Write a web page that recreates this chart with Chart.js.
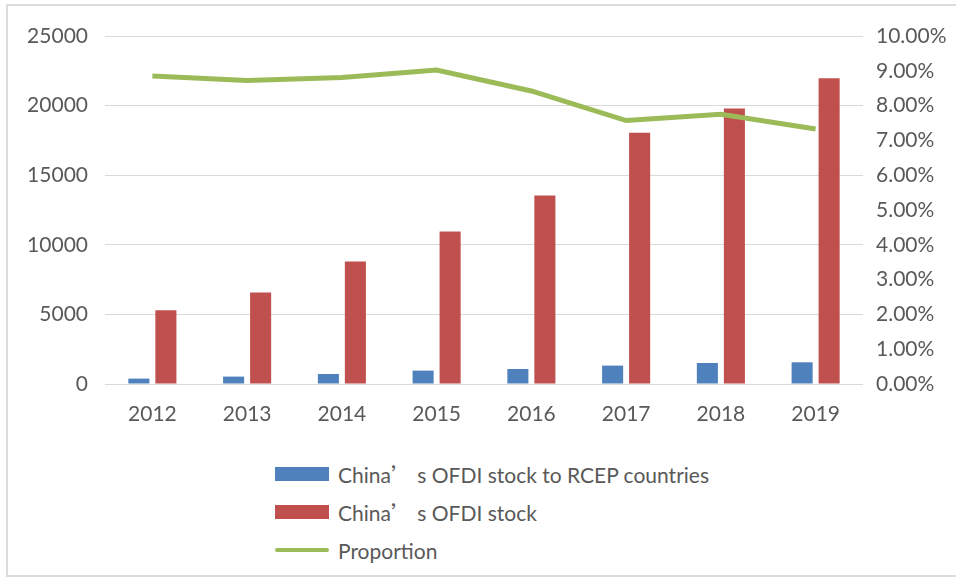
<!DOCTYPE html>
<html>
<head>
<meta charset="utf-8">
<script src="https://cdn.jsdelivr.net/npm/chart.js@4.4.1/dist/chart.umd.min.js"></script>
<style>
    html, body { margin: 0; padding: 0; background: #ffffff; }
    #frame {
        position: absolute; left: 6px; top: 4px; width: 960px; height: 573px;
        border: 2px solid #dcdcdc; box-sizing: border-box;
    }
    #wrap { position: absolute; left: 0; top: 0; width: 956px; height: 440px; }
    #legend {
        position: absolute; left: 275px; top: 455px;
        font-family: Lato, "Open Sans", sans-serif; font-size: 21px; color: #595959;
    }
    .item { display: flex; align-items: center; height: 38px; white-space: pre; }
    .swatch { width: 54px; margin-right: 9px; }
    .cjk { font-family: "Noto Sans CJK SC", sans-serif; }
</style>
</head>
<body>
<div id="frame"></div>
<div id="wrap"><canvas id="ofdiChart" width="956" height="440"></canvas></div>
<div id="legend"></div>
<script>
const years = ['2012', '2013', '2014', '2015', '2016', '2017', '2018', '2019'];
const rcepStock = [388, 532, 718, 963, 1078, 1322, 1509, 1559];
const totalStock = [5300, 6580, 8800, 10960, 13550, 18050, 19800, 21970];
const proportion = [8.85, 8.72, 8.81, 9.02, 8.42, 7.57, 7.75, 7.33];

const leftTicks = [0, 5000, 10000, 15000, 20000, 25000];
const rightMax = 10;

const textColor = '#595959';
const gridColor = '#d9d9d9';
const font = { family: 'Lato, "Open Sans", sans-serif', size: 21 };

const chart = new Chart(document.getElementById('ofdiChart'), {
    data: {
        labels: years,
        datasets: [
            {
                type: 'line',
                label: 'Proportion',
                data: proportion,
                yAxisID: 'y2',
                borderColor: '#9bbb59',
                backgroundColor: '#9bbb59',
                borderWidth: 5,
                pointRadius: 0,
                tension: 0,
                order: 0
            },
            {
                type: 'bar',
                label: 'China’ s OFDI stock to RCEP countries',
                data: rcepStock,
                yAxisID: 'y',
                backgroundColor: '#4f81bd',
                categoryPercentage: 0.57,
                barPercentage: 0.78,
                order: 1
            },
            {
                type: 'bar',
                label: 'China’ s OFDI stock',
                data: totalStock,
                yAxisID: 'y',
                backgroundColor: '#c0504d',
                categoryPercentage: 0.57,
                barPercentage: 0.78,
                order: 1
            }
        ]
    },
    options: {
        responsive: false,
        animation: false,
        layout: {
            padding: { top: 36, left: 0, right: 0, bottom: 0 }
        },
        plugins: {
            legend: { display: false },
            tooltip: { enabled: false }
        },
        scales: {
            x: {
                grid: { display: false, drawTicks: false },
                border: { display: false },
                ticks: { color: textColor, font, padding: 18 },
                afterFit: (scale) => { scale.height = 56; }
            },
            y: {
                position: 'left',
                min: 0,
                max: leftTicks[leftTicks.length - 1],
                afterBuildTicks: (scale) => { scale.ticks = leftTicks.map(v => ({ value: v })); },
                grid: { color: gridColor, lineWidth: 1, drawTicks: false },
                border: { display: false },
                ticks: { color: textColor, font, padding: 17, callback: (v) => String(v) },
                afterFit: (scale) => { scale.width = 105; }
            },
            y2: {
                position: 'right',
                min: 0,
                max: rightMax,
                grid: { display: false, drawTicks: false },
                border: { display: false },
                ticks: {
                    stepSize: 1,
                    color: textColor,
                    font,
                    padding: 13,
                    callback: (v) => v.toFixed(2) + '%'
                },
                afterFit: (scale) => { scale.width = 93; }
            }
        }
    }
});

// stacked legend under the chart, built from the datasets
const legendOrder = [1, 2, 0];
const legend = document.getElementById('legend');
legendOrder.forEach((i) => {
    const ds = chart.data.datasets[i];
    const item = document.createElement('div');
    item.className = 'item';
    const sw = document.createElement('div');
    sw.className = 'swatch';
    if (ds.type === 'line') {
        sw.style.height = '4px';
        sw.style.borderRadius = '2px';
    } else {
        sw.style.height = '14px';
    }
    sw.style.background = ds.backgroundColor;
    item.appendChild(sw);
    // the curly quote is set in the CJK face, which gives it full width
    const txt = document.createElement('span');
    ds.label.split(/(’)/).forEach((part) => {
        const s = document.createElement('span');
        if (part === '’') s.className = 'cjk';
        s.textContent = part;
        txt.appendChild(s);
    });
    item.appendChild(txt);
    legend.appendChild(item);
});
</script>
</body>
</html>
